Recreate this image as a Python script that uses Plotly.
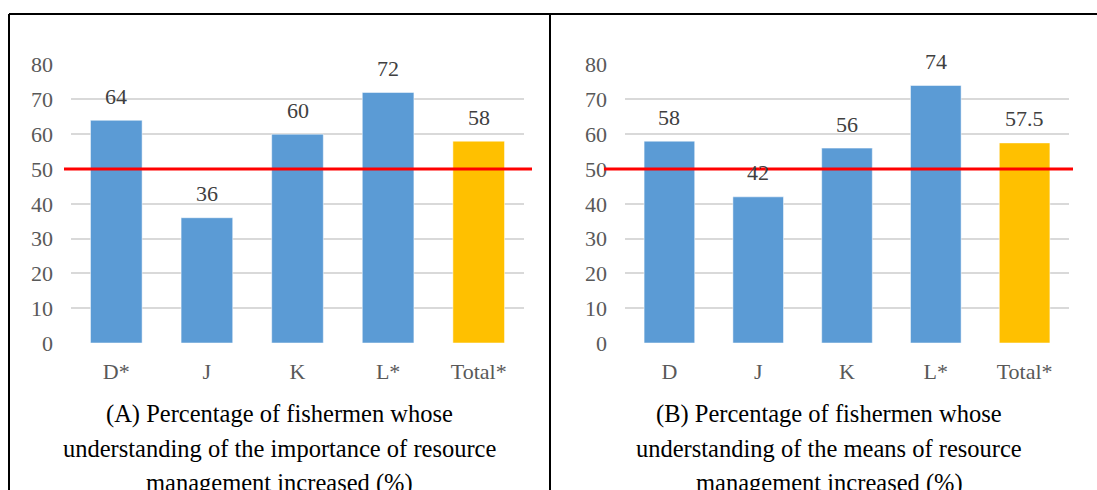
import plotly.graph_objects as go

# ---- data ----
cats_a = ["D*", "J", "K", "L*", "Total*"]
vals_a = [64, 36, 60, 72, 58]
cats_b = ["D", "J", "K", "L*", "Total*"]
vals_b = [58, 42, 56, 74, 57.5]
threshold = 50
y_ticks = [0, 10, 20, 30, 40, 50, 60, 70, 80]
caption_a = ["(A) Percentage of fishermen whose",
             "understanding of the importance of resource",
             "management increased (%)"]
caption_b = ["(B) Percentage of fishermen whose",
             "understanding of the means of resource",
             "management increased (%)"]

W, H = 1097, 490
BLUE = "#5B9BD5"
GOLD = "#FFC000"
FONT = "Times New Roman, Liberation Serif, DejaVu Serif, serif"

def px(x):
    return x / W

def py(y):
    return 1 - y / H

def colors(n):
    return [BLUE] * (n - 1) + [GOLD]

fig = go.Figure()
fig.add_trace(go.Bar(x=cats_a, y=vals_a, marker=dict(color=colors(len(cats_a)),
                     line=dict(color="rgba(255,255,255,0.5)", width=1)),
                     xaxis="x", yaxis="y", width=0.57, showlegend=False))
fig.add_trace(go.Bar(x=cats_b, y=vals_b, marker=dict(color=colors(len(cats_b)),
                     line=dict(color="rgba(255,255,255,0.5)", width=1)),
                     xaxis="x2", yaxis="y2", width=0.57, showlegend=False))

Y0, Y80 = 343, 64.6
ydom = [py(Y0), py(Y80)]
axis_common_y = dict(range=[0, 80], tickvals=y_ticks, showgrid=True, gridcolor="#D9D9D9",
                     gridwidth=2, zeroline=False, showline=False, automargin=False,
                     tickfont=dict(family=FONT, size=22, color="#595959"),
                     ticks="", ticklabelstandoff=17, fixedrange=True)
axis_common_x = dict(showgrid=False, zeroline=False, showline=False, ticks="", automargin=False,
                     tickfont=dict(family=FONT, size=22, color="#595959"),
                     ticklabelstandoff=13, fixedrange=True)

fig.update_layout(
    template="none",
    width=W, height=H, margin=dict(l=0, r=0, t=0, b=0, pad=0, autoexpand=False),
    paper_bgcolor="white", plot_bgcolor="white",
    font=dict(family=FONT),
    xaxis=dict(domain=[px(71), px(524)], anchor="y", **axis_common_x),
    yaxis=dict(domain=ydom, anchor="x", **axis_common_y),
    xaxis2=dict(domain=[px(625), px(1069)], anchor="y2", **axis_common_x),
    yaxis2=dict(domain=ydom, anchor="x2", **axis_common_y),
    bargap=0.43,
)

# data labels
for xa, ya, cats, vals in [("x", "y", cats_a, vals_a), ("x2", "y2", cats_b, vals_b)]:
    for c, v in zip(cats, vals):
        fig.add_annotation(x=c, y=v, xref=xa, yref=ya, text=str(v), showarrow=False,
                           yanchor="middle", yshift=24,
                           font=dict(family=FONT, size=22, color="#404040"))

# threshold lines
fig.add_shape(type="line", xref="paper", yref="y", x0=px(64), x1=px(532), y0=threshold, y1=threshold,
              line=dict(color="#FF0000", width=3))
fig.add_shape(type="line", xref="paper", yref="y2", x0=px(604), x1=px(1073), y0=threshold, y1=threshold,
              line=dict(color="#FF0000", width=3))

# panel borders
border = dict(color="black", width=2)
fig.add_shape(type="line", xref="paper", yref="paper", x0=px(9), x1=1, y0=py(14), y1=py(14), line=border)
fig.add_shape(type="line", xref="paper", yref="paper", x0=px(9), x1=px(9), y0=py(14), y1=0, line=border)
fig.add_shape(type="line", xref="paper", yref="paper", x0=px(550), x1=px(550), y0=py(14), y1=0, line=border)

# captions (domain-referenced, one annotation per line)
def dom_x(xpix, left, right):
    return (xpix - left) / (right - left)

line_centers = [414, 448.5, 483]
for caption, xr, yr, cx, l, r in [(caption_a, "x domain", "y domain", 279, 71, 524),
                                  (caption_b, "x2 domain", "y2 domain", 829, 625, 1069)]:
    for txt, yc in zip(caption, line_centers):
        fig.add_annotation(x=dom_x(cx, l, r), y=(Y0 - yc) / (Y0 - Y80), xref=xr, yref=yr, text=txt,
                           showarrow=False, xanchor="center", yanchor="middle", align="center",
                           font=dict(family=FONT, size=24.5, color="black"))

fig.write_html("out.html")
